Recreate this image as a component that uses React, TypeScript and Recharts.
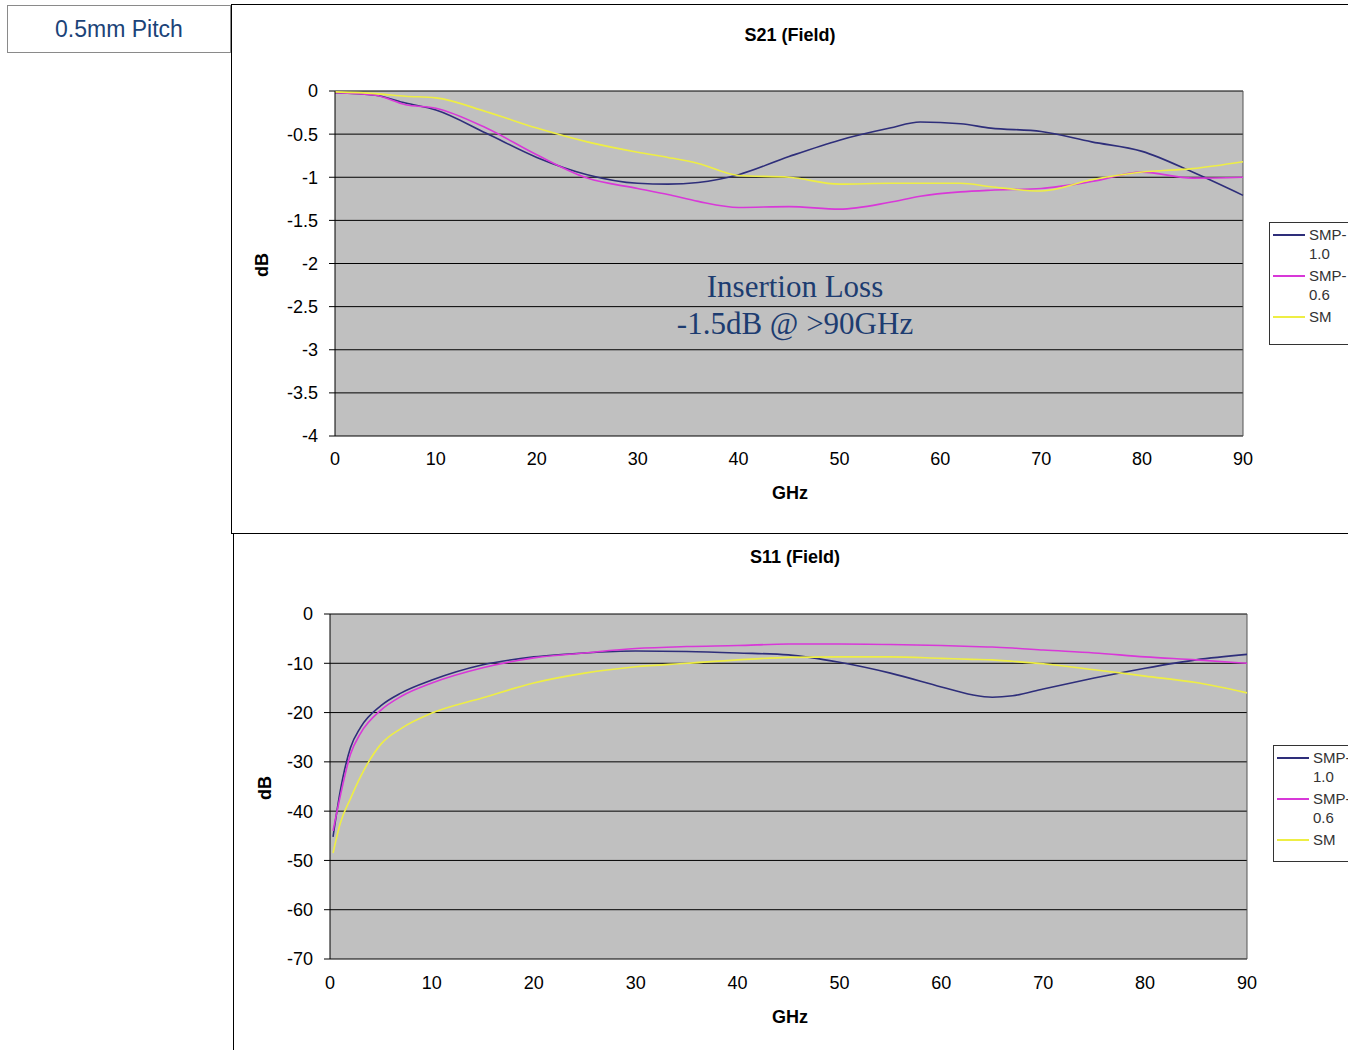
import React from "react";
import {
  CartesianGrid,
  Legend,
  Line,
  LineChart,
  ReferenceLine,
  XAxis,
  YAxis,
} from "recharts";

// ---- data ----
const GHZ_TICKS = [0, 10, 20, 30, 40, 50, 60, 70, 80, 90];

const S21_FREQ = [0, 4, 7, 10, 15, 20, 25, 30, 33, 36, 40, 45, 50, 55, 58, 62, 65, 70, 75, 80, 85, 90];
const S21_SMP10 = [-0.02, -0.05, -0.14, -0.22, -0.49, -0.77, -0.97, -1.07, -1.08, -1.06, -0.97, -0.76, -0.57, -0.43, -0.36, -0.38, -0.43, -0.47, -0.59, -0.7, -0.94, -1.21];
const S21_SMP06 = [-0.02, -0.05, -0.16, -0.2, -0.43, -0.74, -1.01, -1.13, -1.2, -1.28, -1.35, -1.34, -1.37, -1.29, -1.22, -1.17, -1.15, -1.13, -1.05, -0.94, -1.01, -1.0];
const S21_SM = [-0.01, -0.03, -0.06, -0.08, -0.24, -0.43, -0.59, -0.71, -0.77, -0.84, -0.98, -1.0, -1.08, -1.07, -1.07, -1.07, -1.11, -1.16, -1.03, -0.94, -0.9, -0.82];
const S21_TICKS = [0, -0.5, -1, -1.5, -2, -2.5, -3, -3.5, -4];

const S11_FREQ = [0.3, 1, 2, 3, 5, 7, 10, 15, 20, 25, 30, 35, 40, 45, 50, 55, 60, 63, 65, 67, 70, 75, 80, 85, 90];
const S11_SMP10 = [-45.2, -36, -27.2, -23, -18.6, -16, -13.4, -10.3, -8.7, -7.9, -7.5, -7.6, -7.9, -8.3, -9.8, -12, -14.8, -16.4, -16.9, -16.6, -15.2, -13, -11, -9.3, -8.2];
const S11_SMP06 = [-44, -37, -28.5, -24.2, -19.5, -16.7, -14, -10.9, -8.9, -7.9, -7, -6.6, -6.4, -6.1, -6.1, -6.2, -6.4, -6.6, -6.7, -6.9, -7.3, -7.9, -8.7, -9.3, -10];
const S11_SM = [-48.5, -42.5, -37.5, -33, -26.4, -23.2, -20.1, -17, -14, -12, -10.7, -10, -9.3, -8.8, -8.7, -8.7, -9, -9.2, -9.3, -9.6, -10.1, -11.3, -12.6, -13.9, -16];
const S11_TICKS = [0, -10, -20, -30, -40, -50, -60, -70];

const SERIES = [
  { key: "smp10", name: "SMP-1.0", color: "#2e2e7a" },
  { key: "smp06", name: "SMP-0.6", color: "#d838d8" },
  { key: "sm", name: "SM", color: "#eeee44" },
];

const s21Data = S21_FREQ.map((f, i) => ({ ghz: f, smp10: S21_SMP10[i], smp06: S21_SMP06[i], sm: S21_SM[i] }));
const s11Data = S11_FREQ.map((f, i) => ({ ghz: f, smp10: S11_SMP10[i], smp06: S11_SMP06[i], sm: S11_SM[i] }));

const SANS = "'Liberation Sans', Arial, sans-serif";
const tickStyle = { fontSize: 18, fill: "#000", fontFamily: SANS };

// legend keeps the series order (recharts sorts by name otherwise)
function LegendBox({ height }: { height: number }) {
  return (
    <div
      style={{
        border: "1px solid #333",
        background: "#fff",
        width: 100,
        height,
        boxSizing: "border-box",
        paddingTop: 2,
        fontFamily: SANS,
        fontSize: 15,
        lineHeight: "19px",
        color: "#333",
      }}
    >
      {SERIES.map((s) => {
        const parts = s.name.split("-");
        return (
          <div key={s.key} style={{ position: "relative", height: parts.length > 1 ? 40 : 20, marginBottom: 1 }}>
            <div style={{ position: "absolute", left: 3, top: 9, width: 32, height: 2, background: s.color }} />
            <div style={{ position: "absolute", left: 39, top: 0, whiteSpace: "nowrap" }}>
              {parts.length > 1 ? (
                <>
                  {parts[0]}-<br />
                  {parts[1]}
                </>
              ) : (
                parts[0]
              )}
            </div>
          </div>
        );
      })}
    </div>
  );
}

interface PanelProps {
  data: any[];
  width: number;
  height: number;
  top: number;
  right: number;
  yWidth: number;
  xHeight: number;
  domain: [number, number];
  yTicks: number[];
  xTickMargin: number;
  legendLeft: number;
  legendTop: number;
  legendHeight: number;
}

function Panel(p: PanelProps) {
  return (
    <LineChart
      width={p.width}
      height={p.height}
      data={p.data}
      margin={{ top: p.top, right: p.right, bottom: 0, left: 0 }}
    >
      <CartesianGrid vertical={false} stroke="#000" fill="#c0c0c0" fillOpacity={1} />
      <XAxis
        dataKey="ghz"
        type="number"
        domain={[0, 90]}
        ticks={GHZ_TICKS}
        height={p.xHeight}
        axisLine={false}
        tickLine={false}
        tickSize={0}
        tickMargin={p.xTickMargin}
        tick={tickStyle}
        interval={0}
      />
      <XAxis
        xAxisId="top"
        orientation="top"
        type="number"
        domain={[0, 90]}
        ticks={GHZ_TICKS}
        height={0}
        mirror
        tick={false}
        tickSize={6}
        axisLine={{ stroke: "#000" }}
        tickLine={{ stroke: "#000" }}
      />
      <YAxis
        type="number"
        domain={p.domain}
        ticks={p.yTicks}
        width={p.yWidth}
        interval={0}
        tickSize={6}
        tickMargin={11}
        axisLine={{ stroke: "#000" }}
        tickLine={{ stroke: "#000" }}
        tick={tickStyle}
        allowDataOverflow
      />
      <ReferenceLine x={90} stroke="#555" />
      <Legend
        layout="vertical"
        align="center"
        verticalAlign="middle"
        wrapperStyle={{ left: p.legendLeft, top: p.legendTop, width: 100, height: p.legendHeight }}
        content={() => <LegendBox height={p.legendHeight} />}
      />
      {SERIES.map((s) => (
        <Line
          key={s.key}
          type="monotone"
          dataKey={s.key}
          name={s.name}
          stroke={s.color}
          strokeWidth={1.6}
          dot={false}
          isAnimationActive={false}
        />
      ))}
    </LineChart>
  );
}

function Txt({ x, y, children, style }: { x: number; y: number; children: React.ReactNode; style?: React.CSSProperties }) {
  return (
    <div
      style={{
        position: "absolute",
        left: x,
        top: y,
        transform: "translate(-50%, -50%)",
        whiteSpace: "nowrap",
        fontFamily: SANS,
        ...style,
      }}
    >
      {children}
    </div>
  );
}

const bold = { fontWeight: 700, fontSize: 18, color: "#000" };

export default function App() {
  return (
    <div
      style={{
        position: "absolute",
        left: 0,
        top: 0,
        width: 1348,
        height: 1050,
        overflow: "hidden",
        background: "#fff",
      }}
    >
      {/* pitch label */}
      <div
        style={{
          position: "absolute",
          left: 7,
          top: 5,
          width: 224,
          height: 48,
          boxSizing: "border-box",
          border: "1px solid #8a8a8a",
          display: "flex",
          alignItems: "center",
          justifyContent: "center",
          fontFamily: SANS,
          fontSize: 23,
          color: "#1b4378",
        }}
      >
        0.5mm Pitch
      </div>

      {/* frames */}
      <div style={{ position: "absolute", left: 231, top: 4, width: 1200, height: 528, borderLeft: "1px solid #000", borderTop: "1px solid #000", borderBottom: "1px solid #000" }} />
      <div style={{ position: "absolute", left: 233, top: 533, width: 1, height: 520, background: "#000" }} />

      {/* S21 */}
      <div style={{ position: "absolute", left: 232, top: 5 }}>
        <Panel
          data={s21Data}
          width={1116}
          height={526}
          top={86}
          right={105}
          yWidth={103}
          xHeight={95}
          domain={[-4, 0]}
          yTicks={S21_TICKS}
          xTickMargin={16}
          legendLeft={1037}
          legendTop={217}
          legendHeight={123}
        />
      </div>
      <Txt x={790} y={35} style={bold}>S21 (Field)</Txt>
      <Txt x={262} y={265} style={{ ...bold, transform: "translate(-50%, -50%) rotate(-90deg)" }}>dB</Txt>
      <Txt x={790} y={493} style={bold}>GHz</Txt>
      <Txt
        x={795}
        y={305}
        style={{ fontFamily: "'Liberation Serif', 'Times New Roman', serif", fontSize: 31, lineHeight: "37px", color: "#1d3c70", textAlign: "center" }}
      >
        Insertion Loss
        <br />
        -1.5dB @ &gt;90GHz
      </Txt>

      {/* S11 */}
      <div style={{ position: "absolute", left: 234, top: 533 }}>
        <Panel
          data={s11Data}
          width={1114}
          height={517}
          top={81}
          right={101}
          yWidth={96}
          xHeight={91}
          domain={[-70, 0]}
          yTicks={S11_TICKS}
          xTickMargin={17}
          legendLeft={1039}
          legendTop={212}
          legendHeight={117}
        />
      </div>
      <Txt x={795} y={557} style={bold}>S11 (Field)</Txt>
      <Txt x={265} y={788} style={{ ...bold, transform: "translate(-50%, -50%) rotate(-90deg)" }}>dB</Txt>
      <Txt x={790} y={1017} style={bold}>GHz</Txt>
    </div>
  );
}
